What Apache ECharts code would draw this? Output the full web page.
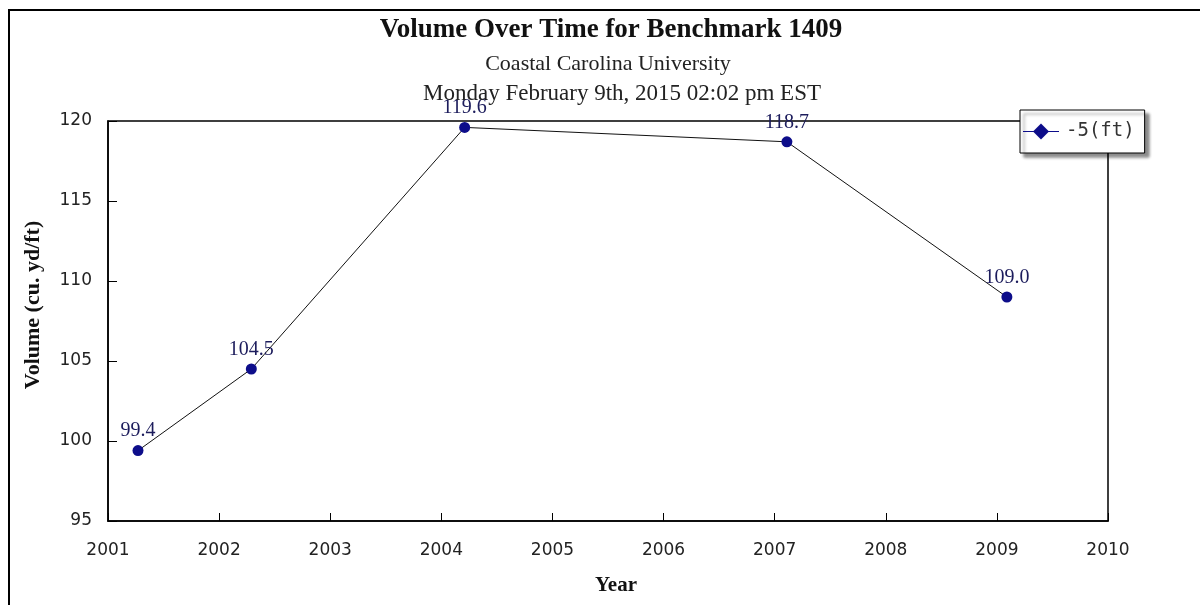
<!DOCTYPE html>
<html>
<head>
<meta charset="utf-8">
<script src="https://cdn.jsdelivr.net/npm/echarts@6/dist/echarts.min.js"></script>
<style>html,body{margin:0;padding:0;background:#fff;}#c{width:1200px;height:605px;}</style>
</head>
<body>
<div id="c"></div>
<script>
var years = [2001.27, 2002.29, 2004.21, 2007.11, 2009.09];
var volumes = [99.4, 104.5, 119.6, 118.7, 109.0];
var seriesName = '-5(ft)';
var titleText = 'Volume Over Time for Benchmark 1409';
var subtitleLines = ['Coastal Carolina University', 'Monday February 9th, 2015 02:02 pm EST'];

var chart = echarts.init(document.getElementById('c'), null, {renderer: 'canvas'});
var pts = years.map(function (y, i) { return [y, volumes[i]]; });
chart.setOption({
  animation: false,
  backgroundColor: '#fff',
  title: [
    {text: titleText, left: 606, textAlign: 'center', top: 12,
     textStyle: {fontFamily: 'Liberation Serif', fontWeight: 'bold', fontSize: 27, color: '#111'}},
    {text: subtitleLines[0], left: 603, textAlign: 'center', top: 48,
     textStyle: {fontFamily: 'Liberation Serif', fontWeight: 'normal', fontSize: 22, color: '#222'}},
    {text: subtitleLines[1], left: 617, textAlign: 'center', top: 77,
     textStyle: {fontFamily: 'Liberation Serif', fontWeight: 'normal', fontSize: 23, color: '#222'}}
  ],
  graphic: [
    {type: 'line', shape: {x1: 8, y1: 10, x2: 1200, y2: 10}, style: {stroke: '#000', lineWidth: 2}},
    {type: 'line', shape: {x1: 9, y1: 10, x2: 9, y2: 605}, style: {stroke: '#000', lineWidth: 2}}
  ],
  legend: {
    left: 1020, top: 110,
    backgroundColor: '#fff', borderColor: '#000', borderWidth: 1,
    padding: [12, 10, 12, 3],
    shadowColor: 'rgba(0,0,0,0.45)', shadowBlur: 3, shadowOffsetX: 4, shadowOffsetY: 4,
    itemWidth: 36, itemHeight: 16, itemGap: 6,
    icon: 'path://M0,7.5 L36,7.5 L36,8.5 L0,8.5 Z M18,0 L26,8 L18,16 L10,8 Z',
    textStyle: {fontFamily: 'DejaVu Sans Mono', fontSize: 19, color: '#333', padding: [0, 0, 0, 2]},
    data: [seriesName]
  },
  grid: {left: 108, right: 92, top: 121, bottom: 84, show: true, borderColor: '#000', borderWidth: 1.5, backgroundColor: 'transparent'},
  xAxis: {
    type: 'value', min: 2001, max: 2010, interval: 1,
    name: 'Year', nameLocation: 'middle', nameGap: 54,
    nameTextStyle: {fontFamily: 'Liberation Serif', fontWeight: 'bold', fontSize: 21, color: '#111', padding: [0, 0, 0, 16]},
    axisLine: {show: true, lineStyle: {color: '#000', width: 1.5}},
    axisTick: {show: true, inside: true, length: 8, lineStyle: {color: '#000'}},
    splitLine: {show: false},
    axisLabel: {fontFamily: 'DejaVu Sans', fontSize: 17, color: '#222', margin: 21, formatter: function (v) { return String(v); }}
  },
  yAxis: {
    type: 'value', min: 95, max: 120, interval: 5,
    name: 'Volume (cu. yd/ft)', nameLocation: 'middle', nameGap: 64, nameRotate: 90,
    nameTextStyle: {fontFamily: 'Liberation Serif', fontWeight: 'bold', fontSize: 22, color: '#111', padding: [0, 0, 0, 32]},
    axisLine: {show: true, lineStyle: {color: '#000', width: 1.5}},
    axisTick: {show: true, inside: true, length: 9, lineStyle: {color: '#000'}},
    splitLine: {show: false},
    axisLabel: {fontFamily: 'DejaVu Sans', fontSize: 17, color: '#222', margin: 16, padding: [6, 0, 0, 0]}
  },
  series: [{
    name: seriesName, type: 'line', data: pts,
    symbol: 'circle', symbolSize: 11,
    itemStyle: {color: '#0d0d8a'},
    lineStyle: {color: '#111', width: 1},
    label: {show: true, position: 'top', distance: 4, formatter: function (p) { return p.value[1].toFixed(1); },
      fontFamily: 'Liberation Serif', fontSize: 20, color: '#1c1c5c'}
  }]
});
</script>
</body>
</html>
